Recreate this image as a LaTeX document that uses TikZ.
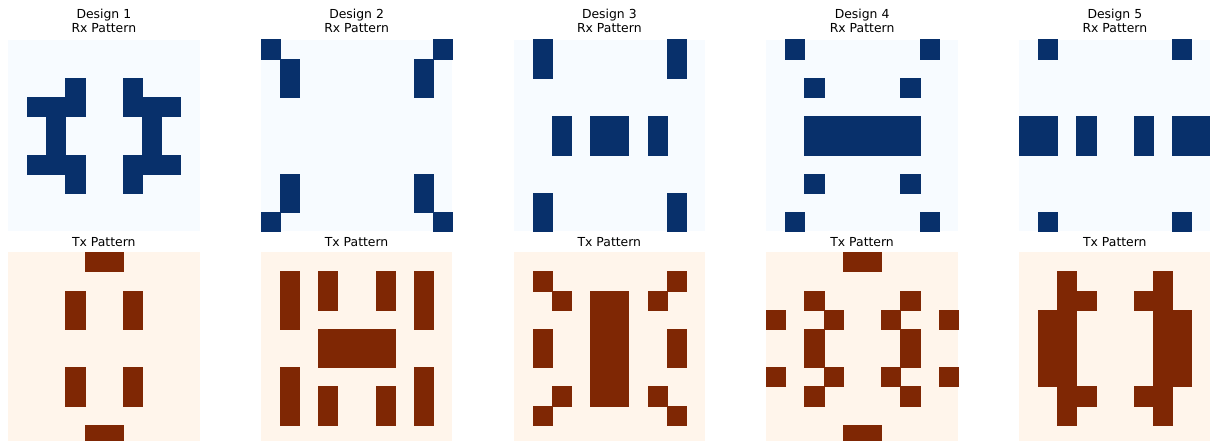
\documentclass[tikz,border=0pt]{standalone}
\usepackage{fontspec}
\setmainfont{DejaVu Sans}
\definecolor{rxlow}{HTML}{F7FBFF}
\definecolor{rxhigh}{HTML}{08306B}
\definecolor{txlow}{HTML}{FFF5EB}
\definecolor{txhigh}{HTML}{7F2704}
\tikzset{
  rxpanel/.style={shift={(#1,39.6)},x=14.38pt,y=-14.38pt},
  txpanel/.style={shift={(#1,252.4)},x=14.38pt,y=-14.38pt},
  rxcell/.style={fill=rxhigh,draw=rxhigh,line width=0.2pt},
  txcell/.style={fill=txhigh,draw=txhigh,line width=0.2pt},
  heading/.style={anchor=base,inner sep=0pt}
}

\begin{document}
\begin{tikzpicture}[x=0.75pt,y=-0.75pt,font=\fontsize{9.3}{11}\selectfont]
  \useasboundingbox (0,0) rectangle (1210,441);
  \clip (0,0) rectangle (1210,441);

  % titles and empty maps
  \foreach \n [evaluate=\n as \cx using 103.85+252.75*(\n-1),
               evaluate=\n as \lx using 8+252.75*(\n-1)] in {1,...,5}{
    \node[heading] (des\n) at (\cx,18.3) {Design \n};
    \node[heading] (rx\n) at (\cx,32.3) {Rx Pattern};
    \node[heading] (tx\n) at (\cx,246.3) {Tx Pattern};
    \fill[rxlow] (\lx,39.6) rectangle ++(191.7,191.7);
    \fill[txlow] (\lx,252.4) rectangle ++(191.7,191.7);
  }

  % Design 1
  \begin{scope}[rxpanel=8]
    \foreach \r/\c in {2/3,3/1,3/2,3/3,4/2,5/2,6/1,6/2,6/3,7/3,
                       2/6,3/6,3/7,3/8,4/7,5/7,6/6,6/7,6/8,7/6}
      \filldraw[rxcell] (\c,\r) rectangle ++(1,1);
  \end{scope}
  \begin{scope}[txpanel=8]
    \foreach \r/\c in {0/4,0/5,9/4,9/5,2/3,3/3,2/6,3/6,6/3,7/3,6/6,7/6}
      \filldraw[txcell] (\c,\r) rectangle ++(1,1);
  \end{scope}

  % Design 2
  \begin{scope}[rxpanel=260.75]
    \foreach \r/\c in {0/0,1/1,2/1,7/1,8/1,9/0,0/9,1/8,2/8,7/8,8/8,9/9}
      \filldraw[rxcell] (\c,\r) rectangle ++(1,1);
  \end{scope}
  \begin{scope}[txpanel=260.75]
    \foreach \r/\c in {1/1,2/1,3/1,1/3,2/3,1/6,2/6,1/8,2/8,3/8,
                       4/3,4/4,4/5,4/6,5/3,5/4,5/5,5/6,
                       6/1,7/1,8/1,7/3,8/3,7/6,8/6,6/8,7/8,8/8}
      \filldraw[txcell] (\c,\r) rectangle ++(1,1);
  \end{scope}

  % Design 3
  \begin{scope}[rxpanel=513.5]
    \foreach \r/\c in {0/1,1/1,8/1,9/1,0/8,1/8,8/8,9/8,
                       4/2,5/2,4/4,4/5,5/4,5/5,4/7,5/7}
      \filldraw[rxcell] (\c,\r) rectangle ++(1,1);
  \end{scope}
  \begin{scope}[txpanel=513.5]
    \foreach \r/\c in {1/1,2/2,1/8,2/7,4/1,5/1,4/8,5/8,7/2,8/1,7/7,8/8,
                       2/4,3/4,4/4,5/4,6/4,7/4,2/5,3/5,4/5,5/5,6/5,7/5}
      \filldraw[txcell] (\c,\r) rectangle ++(1,1);
  \end{scope}

  % Design 4
  \begin{scope}[rxpanel=766.25]
    \foreach \r/\c in {0/1,0/8,2/2,2/7,7/2,7/7,9/1,9/8,
                       4/2,4/3,4/4,4/5,4/6,4/7,5/2,5/3,5/4,5/5,5/6,5/7}
      \filldraw[rxcell] (\c,\r) rectangle ++(1,1);
  \end{scope}
  \begin{scope}[txpanel=766.25]
    \foreach \r/\c in {0/4,0/5,9/4,9/5,2/2,2/7,3/0,3/3,3/6,3/9,
                       4/2,5/2,4/7,5/7,6/0,6/3,6/6,6/9,7/2,7/7}
      \filldraw[txcell] (\c,\r) rectangle ++(1,1);
  \end{scope}

  % Design 5
  \begin{scope}[rxpanel=1019]
    \foreach \r/\c in {0/1,0/8,9/1,9/8,4/0,4/1,5/0,5/1,4/3,5/3,
                       4/6,5/6,4/8,4/9,5/8,5/9}
      \filldraw[rxcell] (\c,\r) rectangle ++(1,1);
  \end{scope}
  \begin{scope}[txpanel=1019]
    \foreach \r/\c in {1/2,2/2,3/2,4/2,5/2,6/2,7/2,8/2,2/3,7/3,
                       3/1,4/1,5/1,6/1,
                       1/7,2/7,3/7,4/7,5/7,6/7,7/7,8/7,2/6,7/6,
                       3/8,4/8,5/8,6/8}
      \filldraw[txcell] (\c,\r) rectangle ++(1,1);
  \end{scope}
\end{tikzpicture}
\end{document}
